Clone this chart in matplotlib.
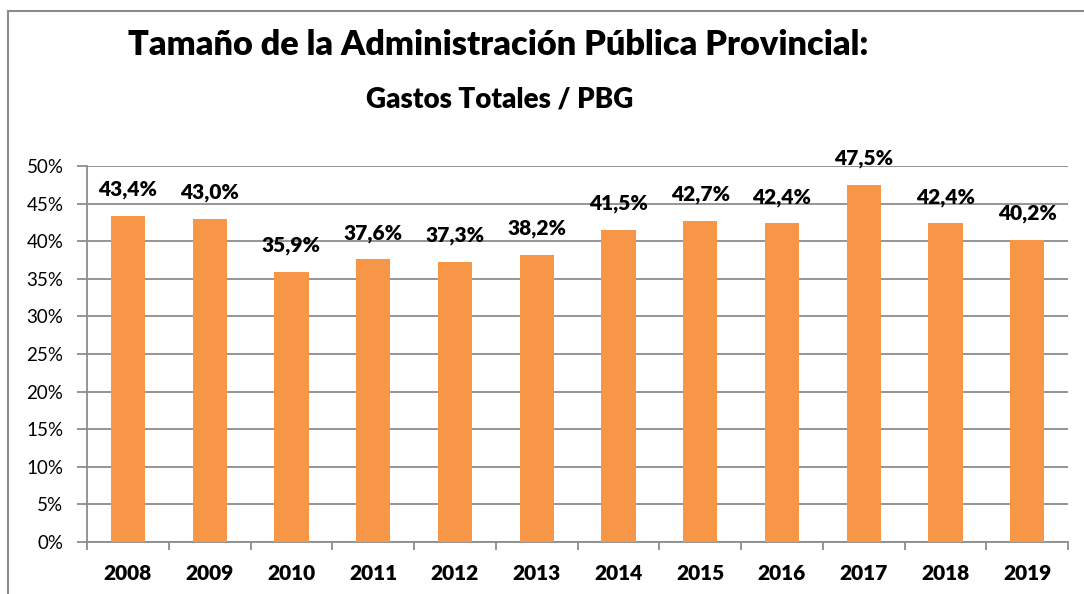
import numpy as np
import matplotlib.pyplot as plt
from matplotlib.lines import Line2D

years = ['2008', '2009', '2010', '2011', '2012', '2013', '2014', '2015', '2016', '2017', '2018', '2019']
values = [43.4, 43.0, 35.9, 37.6, 37.3, 38.2, 41.5, 42.7, 42.4, 47.5, 42.4, 40.2]
labels = ['43,4%', '43,0%', '35,9%', '37,6%', '37,3%', '38,2%', '41,5%', '42,7%', '42,4%', '47,5%', '42,4%', '40,2%']
yticks = [0, 5, 10, 15, 20, 25, 30, 35, 40, 45, 50]

plt.rcParams['font.family'] = ['Lato', 'DejaVu Sans']

fig = plt.figure(figsize=(10.84, 5.94), dpi=100)
ax = fig.add_axes([0.0803, 0.0875, 0.905, 0.633])

x = np.arange(len(years))
ax.bar(x, values, width=0.42, color='#F79646', zorder=3)
for xi, v, lab in zip(x, values, labels):
    ax.annotate(lab, (xi, v), xytext=(0, 12), textcoords='offset points',
                ha='center', va='bottom', fontsize=15, fontweight='heavy',
                annotation_clip=False)

ax.set_xlim(-0.5, len(years) - 0.5)
ax.set_ylim(0, 50)
ax.set_yticks(yticks)
ax.set_yticklabels([f'{t}%' for t in yticks], fontsize=13.5)
ax.yaxis.grid(True, color='#8c8c8c', lw=1.3, zorder=0)
ax.tick_params(axis='y', length=7, color='#8c8c8c', width=1.3, pad=10)

ax.set_xticks(x)
ax.set_xticklabels(years, fontsize=15, fontweight='heavy')
ax.set_xticks(np.arange(-0.5, len(years)), minor=True)
ax.tick_params(axis='x', which='major', length=0, pad=16)
ax.tick_params(axis='x', which='minor', length=6, color='#8c8c8c', width=1.3)

for s in ['top', 'right']:
    ax.spines[s].set_visible(False)
for s in ['left', 'bottom']:
    ax.spines[s].set_color('#8c8c8c')
    ax.spines[s].set_linewidth(1.3)

# outer chart border
fig.add_artist(Line2D([0.0074, 0.0074], [0, 0.9815], color='#8c8c8c', lw=1.5))
fig.add_artist(Line2D([0.0074, 1], [0.9815, 0.9815], color='#8c8c8c', lw=1.5))

fig.text(0.4595, 0.925, 'Tamaño de la Administración Pública Provincial:',
         ha='center', va='center', fontsize=24.7, fontweight='heavy')
fig.text(0.461, 0.832, 'Gastos Totales / PBG',
         ha='center', va='center', fontsize=20, fontweight='heavy')

fig.savefig('out.png', dpi=100)
